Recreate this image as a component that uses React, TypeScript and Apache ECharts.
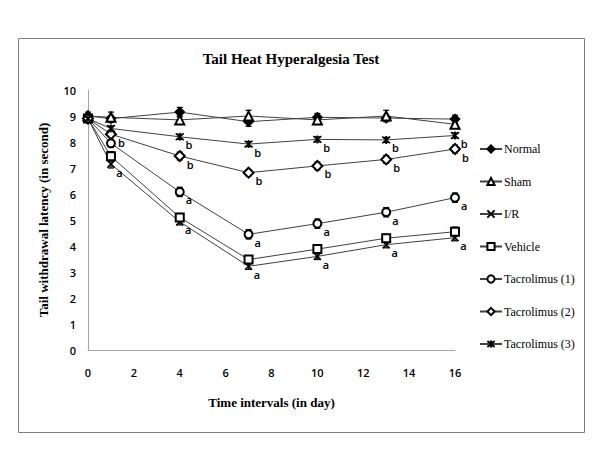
import React, { useEffect, useRef } from "react";
import * as echarts from "echarts";

const days = [0, 1, 4, 7, 10, 13, 16];
const seriesNames = ["Normal", "Sham", "I/R", "Vehicle", "Tacrolimus (1)", "Tacrolimus (2)", "Tacrolimus (3)"];
const normal = [9.0, 8.9, 9.15, 8.78, 8.95, 8.92, 8.88];
const sham = [9.0, 8.95, 8.85, 9.0, 8.85, 9.0, 8.68];
const ir = [8.9, 7.15, 4.93, 3.22, 3.6, 4.05, 4.32];
const vehicle = [8.9, 7.45, 5.1, 3.48, 3.88, 4.3, 4.55];
const tac1 = [8.9, 7.95, 6.08, 4.45, 4.86, 5.3, 5.86];
const tac2 = [8.9, 8.3, 7.46, 6.82, 7.08, 7.33, 7.73];
const tac3 = [8.9, 8.52, 8.2, 7.92, 8.1, 8.08, 8.25];

const normalErr = [0.15, 0.1, 0.18, 0.18, 0.15, 0.12, 0.15];
const shamErr = [0.1, 0.2, 0.15, 0.22, 0.18, 0.22, 0.15];
const irErr = [0.1, 0.15, 0.12, 0.12, 0.12, 0.12, 0.12];
const vehicleErr = [0.1, 0.18, 0.15, 0.15, 0.15, 0.15, 0.18];
const tac1Err = [0.1, 0.15, 0.18, 0.18, 0.18, 0.18, 0.18];
const tac2Err = [0.1, 0.12, 0.15, 0.12, 0.15, 0.15, 0.15];
const tac3Err = [0.1, 0.1, 0.1, 0.1, 0.1, 0.1, 0.1];

const irLetters = ["", "a", "a", "a", "a", "a", "a"];
const tac1Letters = ["", "", "a", "a", "a", "a", "a"];
const tac2Letters = ["", "b", "b", "b", "b", "b", "b"];
const tac3Letters = ["", "", "b", "b", "b", "b", "b"];
const noLetters = ["", "", "", "", "", "", ""];

const xTicks = [0, 2, 4, 6, 8, 10, 12, 14, 16];

const CROSS = "path://M0,0L10,10M10,0L0,10";
const STAR = "path://M0,0L10,10M10,0L0,10M5,-1L5,11";

export default function App() {
  const ref = useRef<HTMLDivElement>(null);
  useEffect(() => {
    if (!ref.current) return;
    const chart = echarts.init(ref.current, null, { renderer: "svg" });
    const defs = [
      { name: seriesNames[0], vals: normal, err: normalErr, letters: noLetters, symbol: "diamond", size: 9 },
      { name: seriesNames[1], vals: sham, err: shamErr, letters: noLetters, symbol: "emptyTriangle", size: 9 },
      { name: seriesNames[2], vals: ir, err: irErr, letters: irLetters, symbol: CROSS, size: 7 },
      { name: seriesNames[3], vals: vehicle, err: vehicleErr, letters: noLetters, symbol: "emptyRect", size: 8 },
      { name: seriesNames[4], vals: tac1, err: tac1Err, letters: tac1Letters, symbol: "emptyCircle", size: 8 },
      { name: seriesNames[5], vals: tac2, err: tac2Err, letters: tac2Letters, symbol: "emptyDiamond", size: 10 },
      { name: seriesNames[6], vals: tac3, err: tac3Err, letters: tac3Letters, symbol: STAR, size: 8 },
    ];
    const series: any[] = [];
    defs.forEach((d) => {
      series.push({
        type: "custom",
        silent: true,
        z: 1,
        renderItem: (params: any, api: any) => {
          const x = api.value(0);
          const y = api.value(1);
          const e = api.value(2);
          const lo = api.coord([x, y - e]);
          const hi = api.coord([x, y + e]);
          const st = { stroke: "#000", lineWidth: 1.2 };
          return {
            type: "group",
            children: [
              { type: "line", shape: { x1: lo[0], y1: lo[1], x2: hi[0], y2: hi[1] }, style: st },
              { type: "line", shape: { x1: lo[0] - 3, y1: lo[1], x2: lo[0] + 3, y2: lo[1] }, style: st },
              { type: "line", shape: { x1: hi[0] - 3, y1: hi[1], x2: hi[0] + 3, y2: hi[1] }, style: st },
            ],
          };
        },
        data: days.map((x, i) => [x, d.vals[i], d.err[i]]),
      });
      series.push({
        type: "line",
        name: d.name,
        z: 3,
        symbol: d.symbol,
        symbolSize: d.size,
        showAllSymbol: true,
        lineStyle: { color: "#404040", width: 1 },
        itemStyle: { color: "#000", borderColor: "#000", borderWidth: 1.6 },
        data: days.map((x, i) =>
          d.letters[i]
            ? {
                value: [x, d.vals[i]],
                label: {
                  show: true,
                  formatter: d.letters[i],
                  position: "right",
                  distance: 1,
                  offset: [0, 8],
                  fontFamily: "Open Sans",
                  fontWeight: 600,
                  fontSize: 11,
                  color: "#000",
                },
              }
            : { value: [x, d.vals[i]] }
        ),
      });
    });

    chart.setOption({
      animation: false,
      backgroundColor: "#fff",
      title: {
        text: "Tail Heat Hyperalgesia Test",
        left: 286,
        top: 46,
        textAlign: "center",
        textStyle: { fontFamily: "Liberation Serif", fontWeight: "bold", fontSize: 15, color: "#000" },
      },
      graphic: [
        {
          type: "rect",
          shape: { x: 18.5, y: 38.5, width: 566, height: 394 },
          style: { fill: "none", stroke: "#7f7f7f", lineWidth: 1 },
          silent: true,
        },
      ],
      legend: {
        orient: "vertical",
        left: 474,
        top: 138,
        itemGap: 20.5,
        itemWidth: 22,
        itemHeight: 9,
        data: seriesNames,
        textStyle: { fontFamily: "Liberation Serif", fontSize: 12, color: "#000", padding: [0, 0, 0, -3] },
      },
      grid: { left: 88, right: 145, top: 90, bottom: 107, containLabel: false },
      xAxis: {
        type: "value",
        min: 0,
        max: 16,
        interval: 2,
        name: "Time intervals (in day)",
        nameLocation: "middle",
        nameGap: 46,
        nameTextStyle: { fontFamily: "Liberation Serif", fontWeight: "bold", fontSize: 13, color: "#000" },
        axisLine: { lineStyle: { color: "#a6a6a6", width: 1 } },
        axisTick: { show: false },
        splitLine: { show: false },
        axisLabel: {
          margin: 17,
          fontFamily: "Open Sans",
          fontWeight: 600,
          fontSize: 11,
          color: "#000",
          customValues: xTicks,
        },
      },
      yAxis: {
        type: "value",
        min: 0,
        max: 10,
        interval: 1,
        name: "Tail withdrawal latency (in second)",
        nameLocation: "middle",
        nameGap: 38,
        nameTextStyle: { fontFamily: "Liberation Serif", fontWeight: "bold", fontSize: 13, color: "#000" },
        axisLine: { show: true, lineStyle: { color: "#a6a6a6", width: 1 } },
        axisTick: { show: false },
        splitLine: { show: false },
        axisLabel: { margin: 12, fontFamily: "Open Sans", fontWeight: 600, fontSize: 11, color: "#000" },
      },
      series,
    });
    return () => chart.dispose();
  }, []);
  return <div ref={ref} style={{ position: "fixed", left: 0, top: 0, width: 600, height: 457 }} />;
}
